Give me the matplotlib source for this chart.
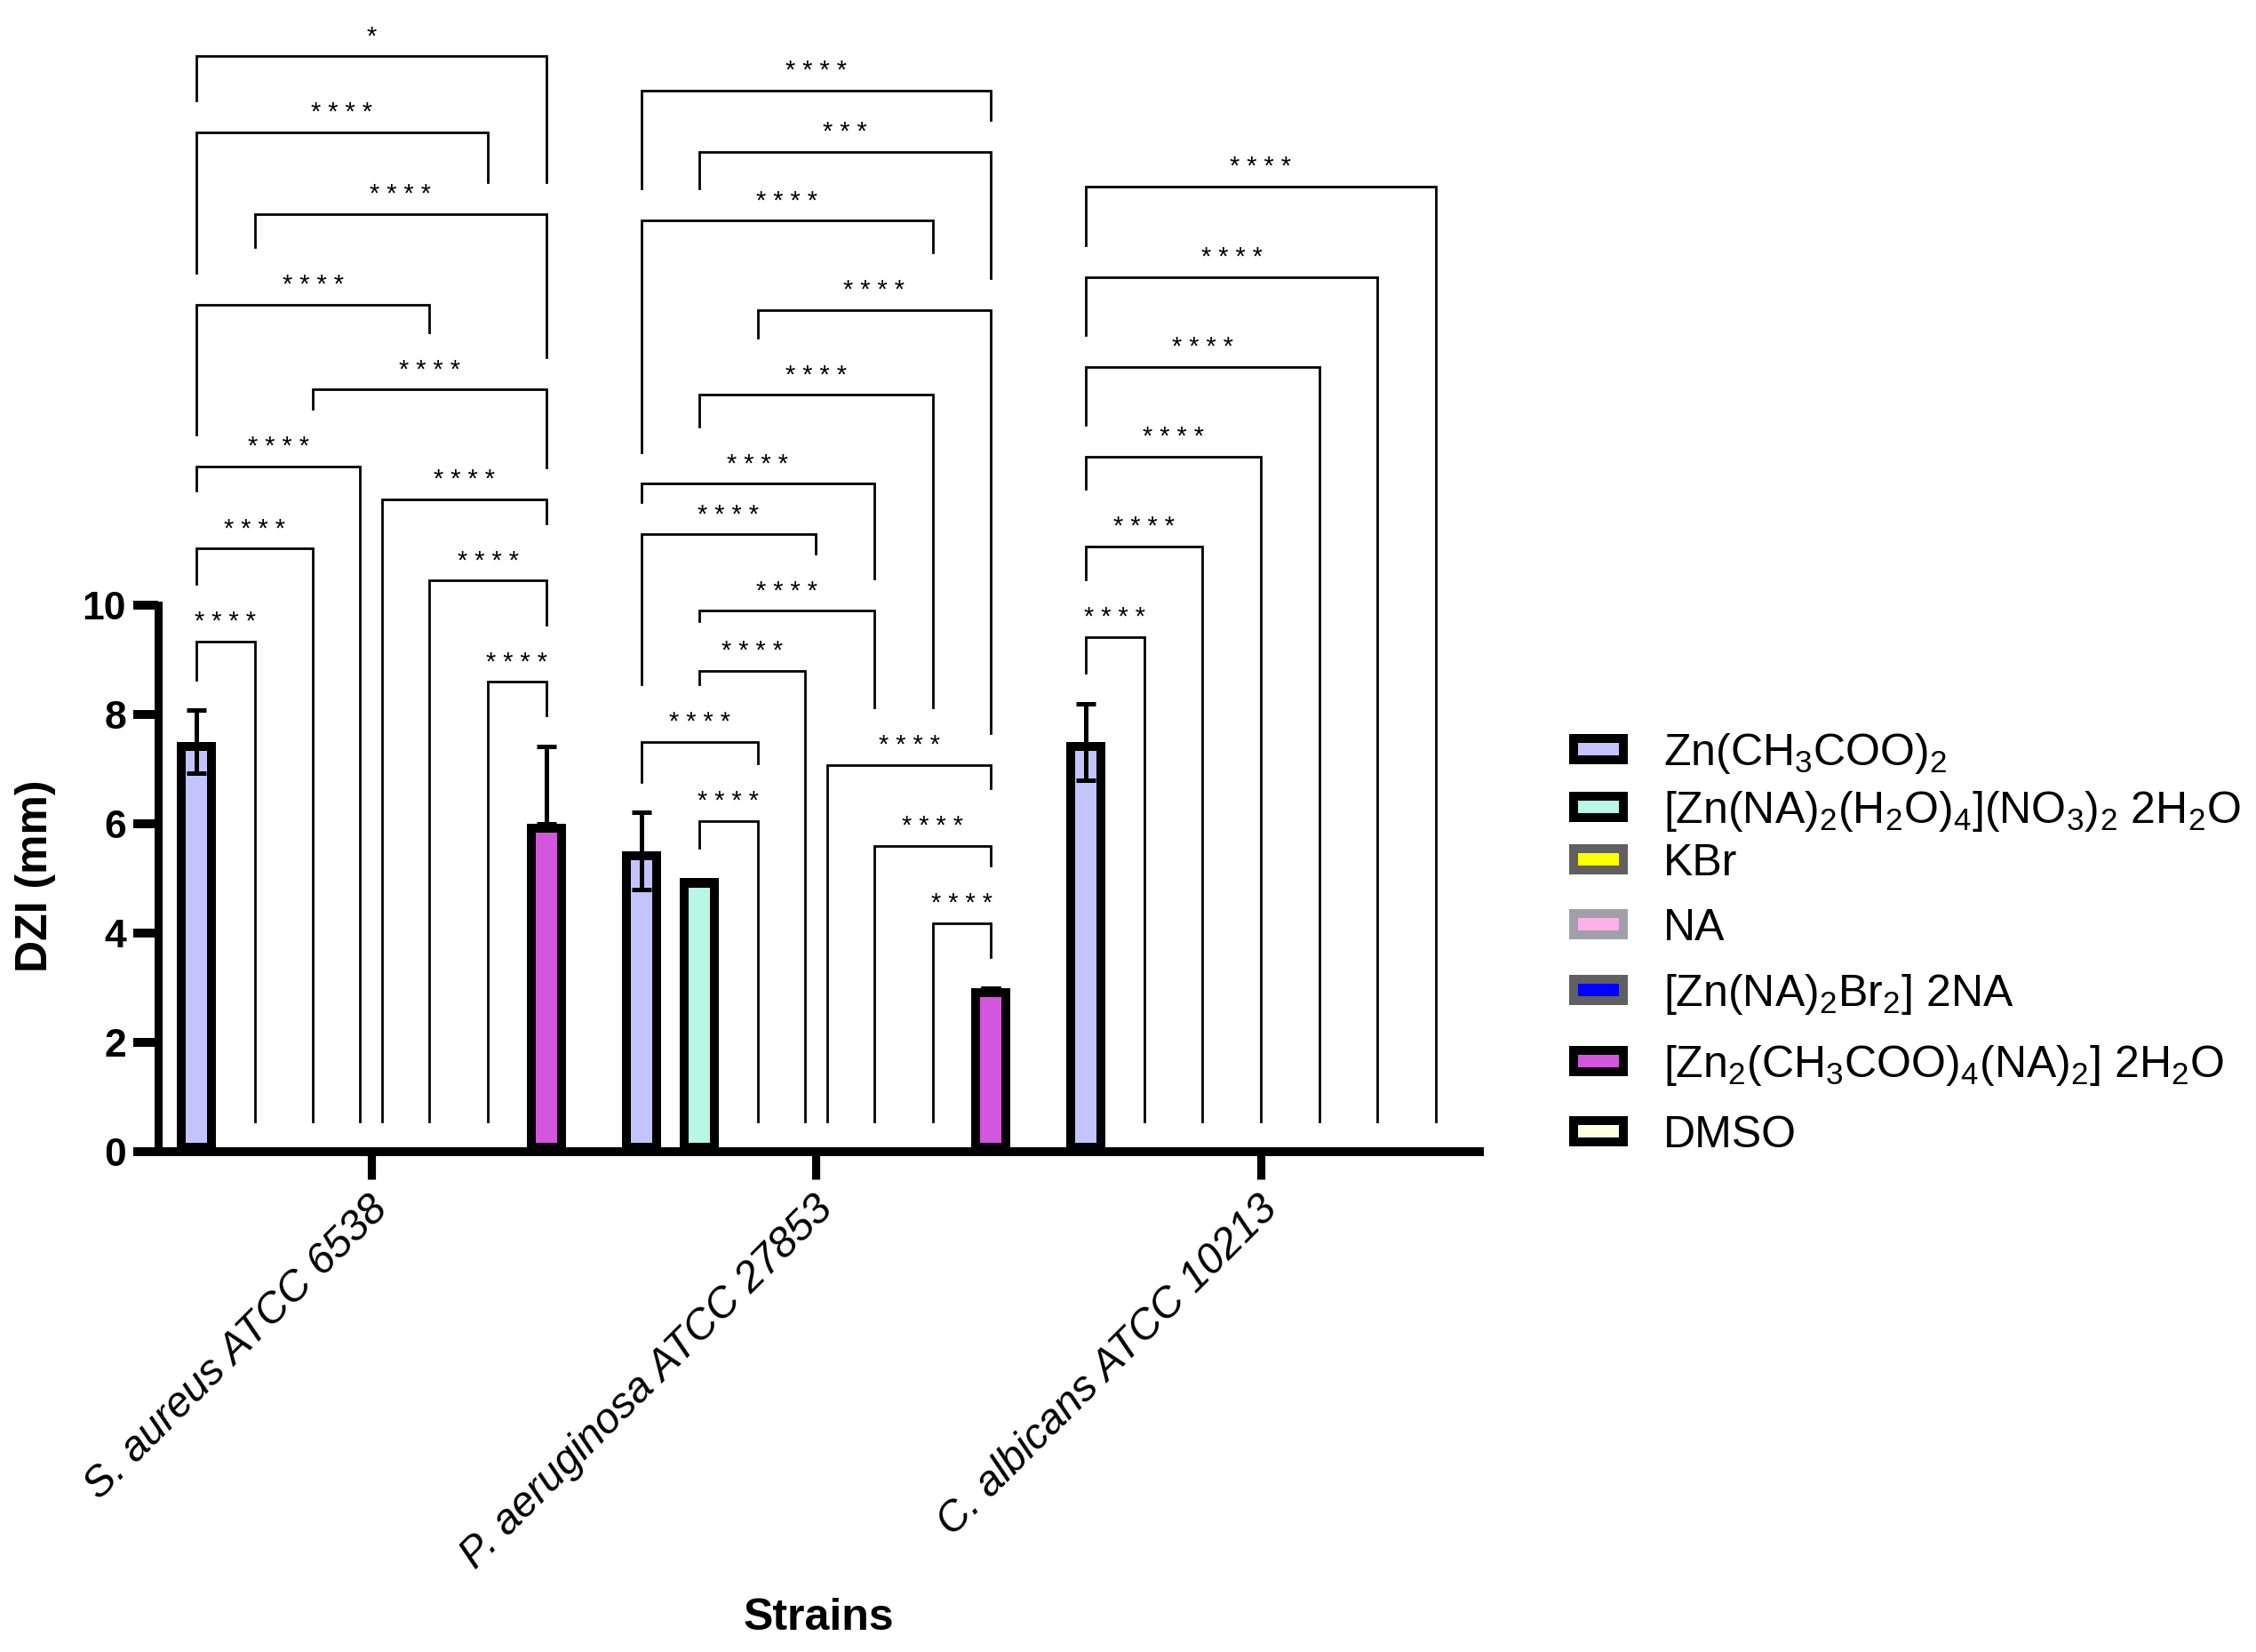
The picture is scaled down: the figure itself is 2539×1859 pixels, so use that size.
import numpy as np
import matplotlib
matplotlib.use("Agg")
import matplotlib.pyplot as plt
from matplotlib.patches import Rectangle
from matplotlib.transforms import ScaledTranslation

# ---- data ----
strains = ["S. aureus ATCC 6538", "P. aeruginosa ATCC 27853", "C. albicans ATCC 10213"]

compounds = [
    r"$\mathrm{Zn(CH_3COO)_2}$",
    r"$\mathrm{[Zn(NA)_2(H_2O)_4](NO_3)_2\ 2H_2O}$",
    "KBr",
    "NA",
    r"$\mathrm{[Zn(NA)_2Br_2]\ 2NA}$",
    r"$\mathrm{[Zn_2(CH_3COO)_4(NA)_2]\ 2H_2O}$",
    "DMSO",
]
fill_colors = ["#c4c4fc", "#b8f7e6", "#ffff00", "#ffb0e8", "#0000ff", "#d257dc", "#fefee0"]
edge_colors = ["black", "black", "#606060", "#a0a0a8", "#606060", "black", "black"]
# position of each compound inside a strain group (1..7)
compound_slots = [1, 2, 3, 4, 5, 7, 6]

zn_acetate = [7.5, 5.5, 7.5]
zn_acetate_sd = [0.58, 0.71, 0.70]
zn_nitrate_complex = [0.0, 5.0, 0.0]
kbr = [0.0, 0.0, 0.0]
nicotinamide = [0.0, 0.0, 0.0]
zn_bromide_complex = [0.0, 0.0, 0.0]
zn_acetate_complex = [6.0, 3.0, 0.0]
zn_acetate_complex_sd = [1.42, 0.0, 0.0]   # only the upper bar is shown
dmso = [0.0, 0.0, 0.0]

values = [zn_acetate, zn_nitrate_complex, kbr, nicotinamide,
          zn_bromide_complex, zn_acetate_complex, dmso]
err_low = [zn_acetate_sd, None, None, None, None, [0.0, 0.0, 0.0], None]
err_high = [zn_acetate_sd, None, None, None, None, zn_acetate_complex_sd, None]

# multiple comparisons: (slot a, slot b, bracket height, stars)
OFF = 0.19
brackets_sa = [
    (1, 2, 9.34, 4), (1, 3, 11.04, 4), (1, 4 - OFF, 12.54, 4), (4 + OFF, 7, 11.94, 4),
    (5, 7, 10.45, 4), (6, 7, 8.6, 4), (3, 7, 13.95, 4), (1, 5, 15.5, 4),
    (2, 7, 17.16, 4), (1, 6, 18.65, 4), (1, 7, 20.05, 1),
]
brackets_pa = [
    (2, 3, 6.05, 4), (1, 3, 7.5, 4), (2, 4 - OFF, 8.8, 4), (2, 5, 9.9, 4),
    (1, 4, 11.3, 4), (1, 5, 12.22, 4), (2, 6, 13.85, 4), (3, 7, 15.4, 4),
    (1, 6, 17.04, 4), (2, 7, 18.3, 3), (1, 7, 19.42, 4),
    (4 + OFF, 7, 7.08, 4), (5, 7, 5.6, 4), (6, 7, 4.18, 4),
]
brackets_ca = [
    (1, 2, 9.42, 4), (1, 3, 11.08, 4), (1, 4, 12.72, 4),
    (1, 5, 14.36, 4), (1, 6, 16.0, 4), (1, 7, 17.66, 4),
]
brackets = [brackets_sa, brackets_pa, brackets_ca]

GROUP_STEP = 7.63
BAR_W = 0.67
W, H = 2539, 1859
# legend rows (patch centres, pixels from top) - GraphPad spacing is uneven
LEGEND_ROWS = [843, 908, 967, 1040, 1114, 1194, 1273]


def slot_x(group, slot):
    return group * GROUP_STEP + (slot - 1)


def leg_bottom(x, top, group_brackets, bar_tops):
    """Lowest point a bracket leg can reach before hitting something below it."""
    bottom = 0.55
    for s, h in bar_tops.items():
        if h > 0 and abs(x - s) < 0.45:
            bottom = max(bottom, h + 0.56)
    for a, b, y, _ in group_brackets:
        if y < top and a - 0.05 <= x <= b + 0.05:
            if abs(x - (a + b) / 2) <= 1.0:
                bottom = max(bottom, y + 1.05)
            else:
                bottom = max(bottom, y + 0.58)
    return min(bottom, top - 0.2)


def draw_legend(fig):
    for k, label in enumerate(compounds):
        yc = 1 - LEGEND_ROWS[k] / H
        fig.add_artist(Rectangle((1771 / W, yc - 12 / H), 56 / W, 24 / H,
                                 facecolor=fill_colors[k], edgecolor=edge_colors[k],
                                 linewidth=3.6, joinstyle="miter",
                                 transform=fig.transFigure))
        fig.text(1872 / W, yc - 18 / H, label, fontsize=18, ha="left", va="baseline")


def main():
    plt.rcParams["font.family"] = "Liberation Sans"
    plt.rcParams["mathtext.fontset"] = "custom"
    plt.rcParams["mathtext.rm"] = "Liberation Sans"
    plt.rcParams["mathtext.it"] = "Liberation Sans:italic"
    plt.rcParams["mathtext.bf"] = "Liberation Sans:bold"

    fig = plt.figure(figsize=(W / 200, H / 200), dpi=200)
    ax = fig.add_axes([178 / W, 1 - 1296 / H, (1665 - 178) / W, 1291.5 / H])

    groups = np.arange(len(strains))
    for k, vals in enumerate(values):
        xs = [slot_x(g, compound_slots[k]) for g in groups]
        heights = np.where(np.array(vals) > 0, vals, np.nan)
        bars = ax.bar(xs, heights, width=BAR_W, color=fill_colors[k],
                      edgecolor=edge_colors[k], linewidth=7.2, zorder=2)
        # GraphPad draws the border inside the bar: clip the doubled stroke to the bar
        for bar in bars:
            bar.set_clip_path(bar)
        if err_high[k] is not None:
            ax.errorbar(xs, heights, yerr=[err_low[k], err_high[k]], fmt="none",
                        ecolor="black", elinewidth=1.8, capsize=4.1, capthick=1.8, zorder=3)

    # significance brackets
    for g in groups:
        bar_tops = {}
        for k, vals in enumerate(values):
            up = err_high[k][g] if err_high[k] is not None else 0.0
            bar_tops[compound_slots[k]] = vals[g] + up
        for a, b, top, n in brackets[g]:
            ya = leg_bottom(a, top, brackets[g], bar_tops)
            yb = leg_bottom(b, top, brackets[g], bar_tops)
            xa, xb = slot_x(g, a), slot_x(g, b)
            ax.plot([xa, xa, xb, xb], [ya, top, top, yb], color="black", lw=1.0,
                    solid_joinstyle="miter", clip_on=False, zorder=4)
            ax.text((xa + xb) / 2, top + 0.22, " ".join("*" * n), ha="center",
                    va="baseline", fontsize=10.4, zorder=4)

    ax.set_xlim(-0.655, 22.01)
    ax.set_ylim(0, 21.0)

    for side in ["top", "right"]:
        ax.spines[side].set_visible(False)
    ax.spines["left"].set_linewidth(3.24)
    ax.spines["left"].set_bounds(0, 10)
    ax.spines["bottom"].set_linewidth(3.6)

    ax.set_yticks(np.arange(0, 11, 2), [str(v) for v in range(0, 11, 2)],
                  fontsize=16, fontweight="bold")
    ax.tick_params(axis="y", length=10, width=3.6, pad=3)
    ax.set_xticks(groups * GROUP_STEP + 3, strains, rotation=45, ha="right", va="top",
                  fontstyle="italic", fontsize=17.2)
    ax.tick_params(axis="x", length=11, width=3.3, pad=4)
    shift = ScaledTranslation(28 / 200, 0, fig.dpi_scale_trans)
    for lbl in ax.get_xticklabels():
        lbl.set_transform(lbl.get_transform() + shift)

    ax.set_ylabel("DZI (mm)", fontsize=18, fontweight="bold")
    ax.yaxis.set_label_coords(-0.093, 0.24)
    ax.yaxis.label.set_va("center")
    ax.set_xlabel("Strains", fontsize=18, fontweight="bold")
    ax.xaxis.set_label_coords(0.5, -0.4065)
    ax.xaxis.label.set_va("center")

    draw_legend(fig)

    fig.savefig("out.png", dpi=200)


if __name__ == "__main__":
    main()
